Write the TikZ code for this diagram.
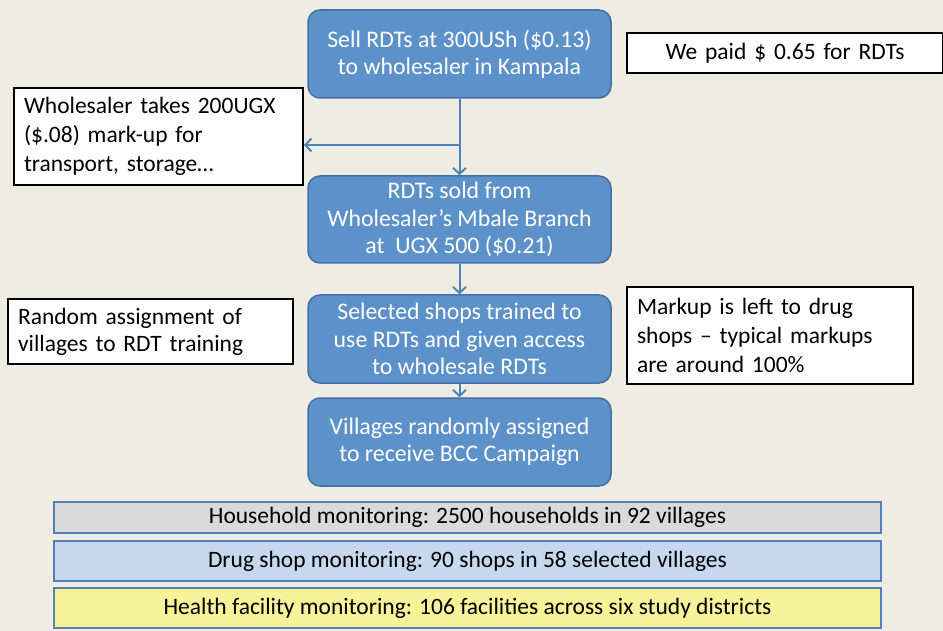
\documentclass[tikz,border=0pt]{standalone}
\usepackage{fontspec}
\setmainfont{Carlito}
\usetikzlibrary{arrows.meta}
\definecolor{slide}{RGB}{239,236,227}
\definecolor{stepblue}{RGB}{93,145,201}
\definecolor{stepedge}{RGB}{66,112,163}
\definecolor{linkblue}{RGB}{79,129,189}
\definecolor{bargrey}{RGB}{218,218,218}
\definecolor{barblue}{RGB}{198,216,238}
\definecolor{baryellow}{RGB}{246,243,152}
\tikzset{
  stepbox/.style={draw=stepedge, line width=1.5pt, fill=stepblue, rounded corners=12pt,
    minimum width=303pt, text=white, align=center, inner sep=0pt,
    font=\fontsize{23.8}{27.5}\selectfont},
  notebox/.style={draw=black, line width=2pt, fill=white, align=left, inner xsep=10pt,
    font=\fontsize{23.5}{29}\selectfont, anchor=west},
  barbox/.style={draw=linkblue, line width=2pt, minimum width=827pt, inner sep=0pt,
    font=\fontsize{23.5}{26}\selectfont},
  link/.style={draw=linkblue, line width=2pt, -{Straight Barb[length=6pt,width=13pt]}}
}
\begin{document}
\begin{tikzpicture}[x=1pt,y=-1pt]
\fill[slide] (0,0) rectangle (943,631);
\useasboundingbox (0,0) rectangle (943,631);

% supply chain
\node[stepbox, minimum height=88pt] (sell) at (459.5,54) {Sell RDTs at 300USh (\$0.13)\\to wholesaler in Kampala};
\node[stepbox, minimum height=87pt] (mbale) at (459.5,219.5) {RDTs sold from\\Wholesaler’s Mbale Branch\\at~ UGX 500 (\$0.21)};
\node[stepbox, minimum height=88pt] (shops) at (459.5,339) {Selected shops trained to\\use RDTs and given access\\to wholesale RDTs};
\node[stepbox, minimum height=88pt] (bcc) at (459.5,442) {Villages randomly assigned\\to receive BCC Campaign};

% side notes
\node[notebox, minimum width=289pt, minimum height=97pt, text width=269pt] (markup) at (13,136.5) {Wholesaler takes 200UGX\\(\$.08) mark-up for\\transport, storage…};
\node[notebox, minimum width=316pt, minimum height=40pt, align=center, text width=296pt] (paid) at (626,53) {We paid \$ 0.65 for RDTs};
\node[notebox, minimum width=286pt, minimum height=97pt, text width=266pt] (left) at (626,335.5) {Markup is left to drug\\shops – typical markups\\are around 100\%};
\node[notebox, minimum width=285pt, minimum height=65pt, text width=265pt, font=\fontsize{23.5}{27}\selectfont] (random) at (7,331.5) {Random assignment of\\villages to RDT training};

% monitoring
\node[barbox, fill=bargrey, minimum height=31pt] (house) at (467.5,517.5) {Household monitoring: 2500 households in 92 villages};
\node[barbox, fill=barblue, minimum height=40pt] (drug) at (467.5,561) {Drug shop monitoring: 90 shops in 58 selected villages};
\node[barbox, fill=baryellow, minimum height=40pt] (health) at (467.5,608) {Health facility monitoring: 106 facilities across six study districts};

% arrows
\coordinate (split) at (459.5,145);
\draw[link] (sell.south) -- (mbale.north);
\draw[link] (split) -- (markup.east |- split);
\draw[link] (mbale.south) -- (shops.north);
\draw[link] (shops.south) -- (bcc.north);
\end{tikzpicture}
\end{document}
